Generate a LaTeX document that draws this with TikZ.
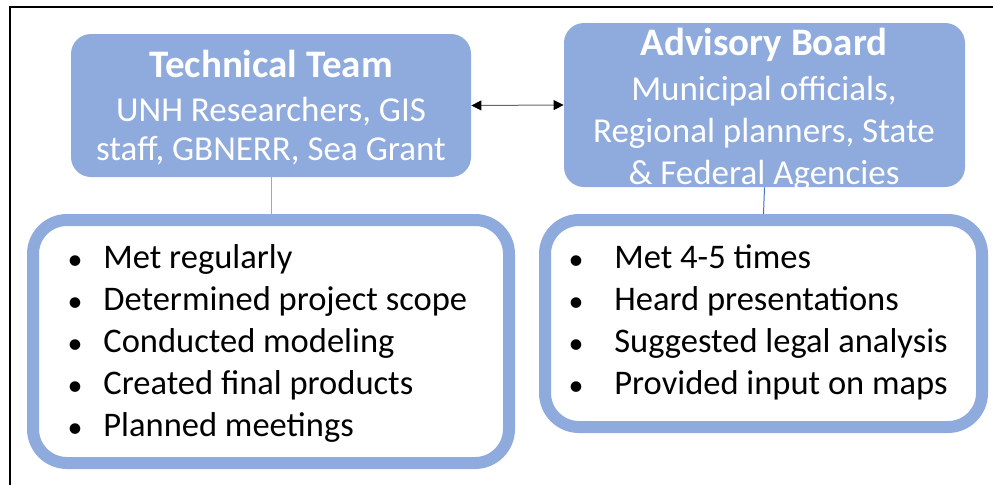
\documentclass[tikz,border=0pt]{standalone}
\usepackage{fontspec}
\setmainfont{Carlito}
\usepackage{xcolor}
\usepackage{tikz}
\usetikzlibrary{backgrounds,arrows.meta}
\definecolor{boxblue}{HTML}{8FAADC}
\definecolor{linkblue}{HTML}{4472C4}

\begin{document}
\begin{tikzpicture}[x=1pt,y=-1pt,thick]
  \tikzstyle{headbox} = [fill=boxblue,rounded corners=20pt,inner sep=0pt]
  \tikzstyle{listbox} = [draw=boxblue,line width=12pt,fill=white,rounded corners=34pt,inner sep=0pt]
  \tikzstyle{headtext} = [text=white,inner sep=0pt,anchor=base,font=\fontsize{35}{42}\selectfont]
  \tikzstyle{headtitle} = [headtext,font=\fontsize{39}{45}\selectfont\bfseries]
  \tikzstyle{item} = [inner sep=0pt,anchor=base west,font=\fontsize{34.5}{42}\selectfont]
  \tikzstyle{dot} = [inner sep=0pt,anchor=base,font=\fontsize{30}{42}\selectfont]
  %
  \useasboundingbox (0,0) rectangle (993,485);
  % Frame.
  \draw[line width=2.5pt] (10,485) -- (10,7) -- (993,7);
  % Header boxes.
  \node[headbox,minimum width=400pt,minimum height=143pt] (tech) at (271,105.5) {};
  \node[headbox,minimum width=401pt,minimum height=164pt] (advis) at (764.5,105) {};
  \node[headtitle] (techtitle) at (271,77) {Technical Team};
  \node[headtext] (tech1) at (271,121) {UNH Researchers, GIS};
  \node[headtext] (tech2) at (271,160) {staff, GBNERR, Sea Grant};
  \node[headtitle] (advtitle) at (764,55) {Advisory Board};
  \node[headtext] (adv1) at (764,100) {Municipal officials,};
  \node[headtext] (adv2) at (764,142) {Regional planners, State};
  \node[headtext] (adv3) at (764,184) {\& Federal Agencies};
  % List boxes.
  \node[listbox,minimum width=476pt,minimum height=243pt] (techlist) at (271,341.5) {};
  \node[listbox,minimum width=437pt,minimum height=207pt] (advlist) at (763.5,323.5) {};
  % Left list.
  \foreach \txt [count=\i] in {Met regularly, Determined project scope, Conducted modeling,
      Created final products, Planned meetings} {
    \node[dot] (tb\i) at (75,{227+42*\i}) {•};
    \node[item] (tl\i) at (103,{226+42*\i}) {\txt};
  }
  % Right list.
  \foreach \txt [count=\i] in {Met 4-5 times, Heard presentations, Suggested legal analysis,
      Provided input on maps} {
    \node[dot] (ab\i) at (576,{227+42*\i}) {•};
    \node[item] (al\i) at (614,{226+42*\i}) {\txt};
  }
  % Connectors.
  \draw[{Triangle[length=10pt,width=10pt,black]}-{Triangle[length=10pt,width=10pt,black]},
    draw=black!60,line width=1pt] (tech.east) -- (advis.west);
  \draw[linkblue,line width=1pt] (advis.south) -- (advlist.north);
  \begin{pgfonlayer}{background}
    \draw[boxblue,line width=1pt] (tech.south) -- (techlist.north);
  \end{pgfonlayer}
\end{tikzpicture}
\end{document}
